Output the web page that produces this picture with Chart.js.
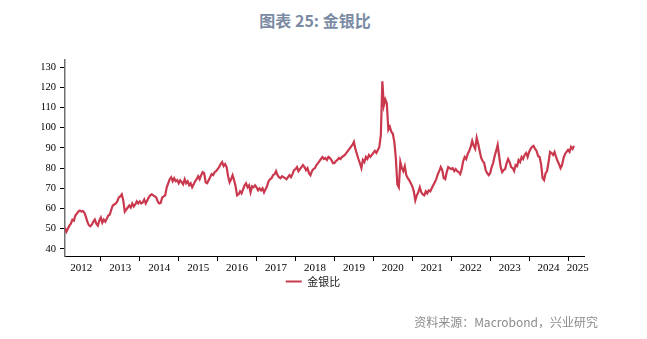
<!DOCTYPE html>
<html>
<head>
<meta charset="utf-8">
<script src="https://cdn.jsdelivr.net/npm/chart.js@4.4.1/dist/chart.umd.min.js"></script>
<style>
  body { margin: 0; background: #fff; }
  #wrap { position: relative; width: 647px; height: 339px; }
  #title { position: absolute; left: 0; top: 8px; width: 630px; text-align: center;
           font-family: "Noto Sans CJK SC", "Noto Sans", sans-serif; font-weight: bold;
           font-size: 16px; color: #7b8ba4; }
  #source { position: absolute; right: 49px; top: 313px;
            font-family: "Noto Sans CJK SC", "Noto Sans", sans-serif; font-size: 12px; color: #8c8c8c; }
  canvas { position: absolute; left: 0; top: 0; }
</style>
</head>
<body>
<div id="wrap">
  <div id="title">图表 25: 金银比</div>
  <canvas id="myChart" width="647" height="339"></canvas>
  <div id="source">资料来源：Macrobond，兴业研究</div>
</div>
<script>
// 金银比，双周取样（每年26个点，2012年从2月开始）
const y2012 = [50.5, 48.5, 50, 51.5, 52.5, 54.5, 54, 56.5, 57.5, 58.5, 59, 58.5, 58.8, 58, 56, 53.5, 51.8, 51.2, 52, 53.5, 54.5, 52.5, 51.5, 54];
const y2013 = [55.5, 53, 54.5, 53.5, 55, 56.5, 57, 59.5, 61.5, 62, 62.5, 63.5, 65.5, 66, 67, 64, 58.5, 59.5, 60.5, 61.5, 60.5, 62.5, 61, 62, 63.5, 62.5];
const y2014 = [63.5, 62.5, 63, 64.5, 62.5, 64, 65.5, 66.5, 67, 66.5, 66, 65.5, 63.5, 62.5, 62.8, 65.5, 66, 66.5, 70.5, 72.5, 74.5, 75.5, 73.5, 75, 73.5, 74];
const y2015 = [72.5, 74, 73, 72, 74.5, 72.5, 73.5, 71.5, 72.5, 70.5, 72, 73.5, 74.5, 76, 74.5, 76.5, 78, 77.5, 73, 72.5, 74, 75.5, 77, 76.5, 78, 78.5];
const y2016 = [79.5, 80.5, 82, 83, 81, 82, 80.5, 76, 73, 74.5, 76.5, 74, 71, 66.5, 67, 68.5, 67.5, 69.5, 71.5, 72.5, 70.5, 71.5, 68, 71, 70.5, 71.5];
const y2017 = [70.5, 69, 70, 69, 70, 68, 69.5, 71, 73.5, 74.5, 75, 76.5, 77, 78.5, 76.5, 75.5, 75, 76, 75.5, 75, 74.5, 75.5, 76.5, 75.5, 77, 79];
const y2018 = [79.5, 80.5, 78.5, 79.5, 80.5, 81.5, 80.5, 79, 80, 77.5, 76.5, 78.5, 79.5, 80, 81.5, 82.5, 83.5, 84.5, 85.5, 84.5, 85, 84, 85.5, 85, 84, 82.5];
const y2019 = [82.5, 83.5, 84, 85, 84.5, 85.5, 86, 86.5, 87.5, 88.5, 89.5, 90.5, 91.5, 93, 89.5, 87, 84.5, 82.5, 80, 84, 83, 85.5, 84.5, 86.5, 85.5, 86.5];
const y2020 = [87.5, 88.5, 87.5, 89, 90.5, 96.5, 123, 111, 114, 112, 99, 100.5, 98, 97, 93, 85, 72, 70.5, 83, 80, 78.5, 81, 76.5, 75, 74, 72.5];
const y2021 = [71, 68.5, 64, 66.5, 68, 70.5, 68, 67, 66.5, 68.5, 67.5, 69, 68.5, 70, 71.5, 73, 74.5, 77, 78.5, 80.5, 79, 75, 74.5, 78, 80.5, 80];
const y2022 = [79.5, 80, 78.5, 79.5, 78.5, 78, 77, 79.5, 83.5, 85.5, 84.5, 87, 88.5, 90.5, 93.5, 91, 89.5, 95, 92, 88.5, 85, 83.5, 82.5, 79, 77.5, 76.5];
const y2023 = [77.5, 80.5, 82.5, 86, 88.5, 91.5, 86, 80.5, 78, 79, 79.5, 82.5, 84.5, 83, 80.5, 80, 78.5, 81.5, 81, 84, 83, 85.5, 84.5, 86.5, 87.5, 85.5];
const y2024 = [88, 89.5, 90.5, 91, 89.5, 88.5, 86, 85.5, 82, 75, 74, 77.5, 78.5, 83, 88, 87.5, 86.5, 88, 85.5, 83.5, 82, 80, 81.5, 85, 87, 88];
const y2025 = [89, 88, 90.5, 89.5, 91];

const years = [2012, 2013, 2014, 2015, 2016, 2017, 2018, 2019, 2020, 2021, 2022, 2023, 2024, 2025];
const yearValues = [y2012, y2013, y2014, y2015, y2016, y2017, y2018, y2019, y2020, y2021, y2022, y2023, y2024, y2025];
const firstStep = { 2012: 2 };   // 2012年序列从第3个双周开始
const yTicks = [40, 50, 60, 70, 80, 90, 100, 110, 120, 130];
const yearLabelPos = [2012.5, 2013.5, 2014.5, 2015.5, 2016.5, 2017.5, 2018.5, 2019.5, 2020.5, 2021.5, 2022.5, 2023.5, 2024.5, 2025.25];

const points = [];
years.forEach((yr, i) => {
  const start = firstStep[yr] || 0;
  yearValues[i].forEach((v, k) => points.push({ x: yr + (start + k) / 26, y: v }));
});

const serif = "'Liberation Serif', 'DejaVu Serif', serif";
const lineColor = '#c9384d';

const ctx = document.getElementById('myChart').getContext('2d');
new Chart(ctx, {
  type: 'line',
  data: {
    datasets: [{
      label: '金银比',
      data: points,
      borderColor: lineColor,
      backgroundColor: lineColor,
      borderWidth: 2.2,
      pointRadius: 0,
      tension: 0,
      fill: false
    }]
  },
  options: {
    animation: false,
    responsive: false,
    layout: { padding: { left: 42, right: 63, top: 60, bottom: 42 } },
    plugins: {
      legend: {
        position: 'bottom',
        labels: {
          boxWidth: 16, boxHeight: 2, padding: 4,
          color: '#222',
          font: { family: "'Noto Sans CJK SC', sans-serif", size: 11 },
          generateLabels: (chart) => Chart.defaults.plugins.legend.labels.generateLabels(chart)
            .map(l => Object.assign(l, { lineWidth: 0 }))
        }
      },
      tooltip: { enabled: false }
    },
    scales: {
      x: {
        type: 'linear',
        min: 2012.08,
        max: 2025.41,
        afterBuildTicks: (scale) => {
          const t = [];
          years.forEach(y => { if (y > 2012) t.push({ value: y }); });
          yearLabelPos.forEach(v => t.push({ value: v }));
          t.sort((a, b) => a.value - b.value);
          scale.ticks = t;
        },
        afterFit: (scale) => { scale.height = 16; },
        grid: {
          drawOnChartArea: false,
          drawTicks: true,
          tickLength: 5,
          tickColor: (c) => (c.tick && Number.isInteger(c.tick.value)) ? '#000' : 'rgba(0,0,0,0)'
        },
        border: { color: '#000', width: 1 },
        ticks: {
          autoSkip: false,
          maxRotation: 0,
          padding: 1,
          color: '#000',
          font: { family: serif, size: 11 },
          callback: (v) => Number.isInteger(v) ? '' : String(Math.floor(v))
        }
      },
      y: {
        min: 36.5,
        max: 133.5,
        afterBuildTicks: (scale) => { scale.ticks = yTicks.map(v => ({ value: v })); },
        afterFit: (scale) => { scale.width = 23; },
        grid: { drawOnChartArea: false, tickLength: 5, tickColor: '#000' },
        border: { color: '#707070', width: 1.5 },
        ticks: { color: '#000', padding: 4, font: { family: serif, size: 10.5 } }
      }
    }
  }
});
</script>
</body>
</html>
